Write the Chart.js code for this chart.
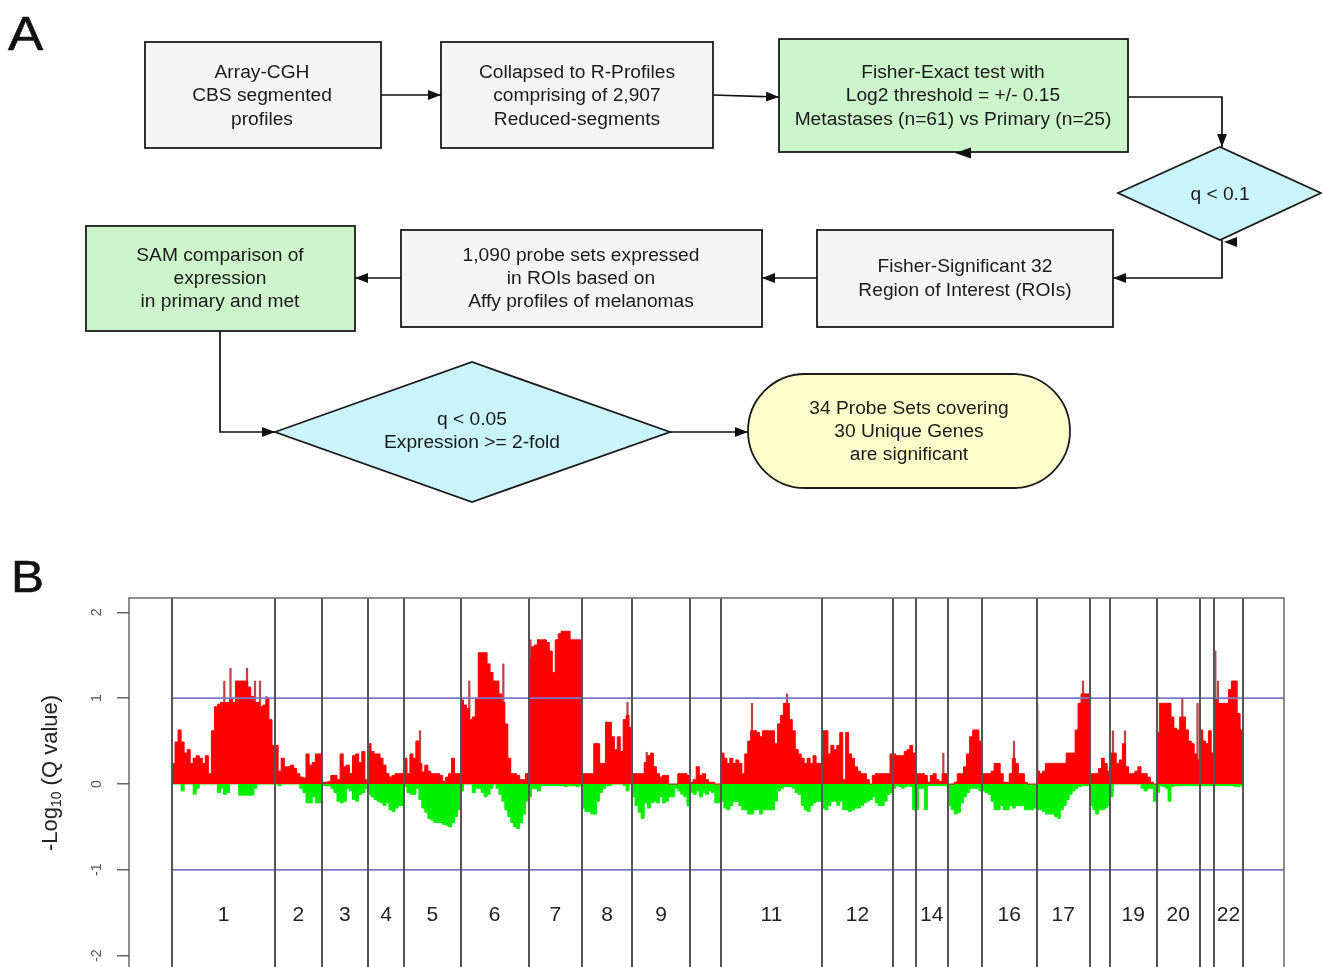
<!DOCTYPE html>
<html>
<head>
<meta charset="utf-8">
<title>CGH-expression workflow and genome-wide Fisher q-values</title>
<script src="https://cdn.jsdelivr.net/npm/chart.js@4.4.1/dist/chart.umd.min.js"></script>
<style>
  html, body { margin: 0; padding: 0; background: #fff; }
  body { width: 1322px; height: 967px; overflow: hidden; position: relative;
         font-family: "Liberation Sans", Arial, sans-serif; }
  #qplot { position: absolute; left: 0; top: 560px; }
  #flow { position: absolute; left: 0; top: 0; pointer-events: none; }
</style>
</head>
<body>
<canvas id="qplot" width="1322" height="440"></canvas>

<svg id="flow" width="1322" height="967" viewBox="0 0 1322 967">
  <defs>
    <marker id="ah" viewBox="0 0 13 10" refX="13" refY="5" markerWidth="13" markerHeight="10"
            markerUnits="userSpaceOnUse" orient="auto">
      <path d="M0,0 L13,5 L0,10 Z" fill="#111"/>
    </marker>
  </defs>

  <!-- panel tags -->
  <g font-family="Liberation Sans, Arial, sans-serif" fill="#111" stroke="#111" stroke-width="0.6">
    <text transform="translate(8,50) scale(1.1,1)" font-size="48">A</text>
    <text transform="translate(11,592) scale(1.1,1)" font-size="45">B</text>
  </g>

  <!-- boxes -->
  <g stroke="#1b1b1b" stroke-width="1.8">
    <rect x="145" y="42" width="236" height="106" fill="#f5f5f5"/>
    <rect x="441" y="42" width="272" height="106" fill="#f5f5f5"/>
    <rect x="779" y="39" width="349" height="113" fill="#ccf5cc"/>
    <polygon points="1118,193 1220,147 1321,193 1220,240" fill="#c9f4fb"/>
    <rect x="817" y="230" width="296" height="97" fill="#f5f5f5"/>
    <rect x="401" y="230" width="361" height="97" fill="#f5f5f5"/>
    <rect x="86" y="226" width="269" height="105" fill="#ccf5cc"/>
    <polygon points="275,432 472,362 670,432 472,502" fill="#c9f4fb"/>
    <rect x="748" y="374" width="322" height="114" rx="57" ry="57" fill="#ffffcc"/>
  </g>

  <!-- connectors -->
  <g stroke="#111" stroke-width="1.7" fill="none" marker-end="url(#ah)">
    <line x1="381" y1="95" x2="441" y2="95"/>
    <line x1="713" y1="95" x2="779" y2="97"/>
    <polyline points="1128,97 1222,97 1222,147"/>
    <polyline points="1222,240 1222,278 1113,278"/>
    <line x1="817" y1="278" x2="762" y2="278"/>
    <line x1="401" y1="278" x2="355" y2="278"/>
    <polyline points="220,331 220,432 275,432"/>
    <line x1="670" y1="432" x2="748" y2="432"/>
  </g>
  <g fill="#111">
    <path d="M955,153 L971,147.5 L971,158.5 Z"/>
    <path d="M1224,242 L1237,237 L1237,247 Z"/>
  </g>

  <!-- box texts -->
  <g font-family="Liberation Sans, Arial, sans-serif" font-size="19.2" fill="#1a1a1a" text-anchor="middle">
    <text x="262" y="78">Array-CGH</text>
    <text x="262" y="101">CBS segmented</text>
    <text x="262" y="125">profiles</text>

    <text x="577" y="78">Collapsed to R-Profiles</text>
    <text x="577" y="101">comprising of 2,907</text>
    <text x="577" y="125">Reduced-segments</text>

    <text x="953" y="78">Fisher-Exact test with</text>
    <text x="953" y="101">Log2 threshold = +/- 0.15</text>
    <text x="953" y="125">Metastases (n=61) vs Primary (n=25)</text>

    <text x="1220" y="200">q &lt; 0.1</text>

    <text x="965" y="272">Fisher-Significant 32</text>
    <text x="965" y="296">Region of Interest (ROIs)</text>

    <text x="581" y="261">1,090 probe sets expressed</text>
    <text x="581" y="284">in ROIs based on</text>
    <text x="581" y="307">Affy profiles of melanomas</text>

    <text x="220" y="261">SAM comparison of</text>
    <text x="220" y="284">expression</text>
    <text x="220" y="307">in primary and met</text>

    <text x="472" y="425">q &lt; 0.05</text>
    <text x="472" y="448">Expression &gt;= 2-fold</text>

    <text x="909" y="414">34 Probe Sets covering</text>
    <text x="909" y="437">30 Unique Genes</text>
    <text x="909" y="460">are significant</text>
  </g>
</svg>

<script>
// Chromosomes in genome order and the labels printed under them
// (labels of the narrow chromosomes are left out).
const chromNames = ['1','2','3','4','5','6','7','8','9','10','11','12','13','14','15','16','17','18','19','20','21','22'];
const chromTickLabels = ['1','2','3','4','5','6','7','8','9','','11','12','','14','','16','17','','19','20','','22'];

// Relative span of each chromosome along the genome axis.
const chromSpan = [103, 46.5, 46.5, 36, 56.5, 68, 53.5, 50, 58, 31, 101, 71, 22.5, 32.5, 34, 54.5, 53.5, 20, 46.5, 43.5, 14, 29];

// -log10(q) of the gain test, equal-width reduced segments per chromosome.
const gainQ = [
  [0.24,0.49,0.63,0.49,0.36,0.4,0.24,0.3,0.33,0.3,0.24,0.33,0.12,0.62,0.9,0.93,0.95,0.95,0.95,1.0,0.95,1.2,1.2,1.2,1.2,1.13,1.02,0.95,0.95,0.9,0.92,1.0,0.75,0.45],
  [0.45,0.15,0.3,0.2,0.2,0.22,0.18,0.12,0.08,0.07,0.35,0.22,0.25,0.35,0.35],
  [0.02,0.02,0.03,0.1,0.1,0.05,0.35,0.2,0.22,0.12,0.33,0.35,0.25,0.38,0.05],
  [0.47,0.38,0.35,0.35,0.3,0.22,0.12,0.08,0.1,0.12,0.12,0.12],
  [0.3,0.12,0.35,0.3,0.5,0.24,0.14,0.22,0.15,0.12,0.12,0.12,0.1,0.03,0.08,0.12,0.3,0.12,0.12],
  [0.98,0.92,0.88,0.75,0.78,1.0,1.53,1.53,1.53,1.4,1.3,1.2,1.2,1.05,0.95,0.7,0.3,0.12,0.12,0.1,0.05,0.05,0.12],
  [1.45,1.6,1.62,1.68,1.68,1.68,1.65,1.55,1.3,1.68,1.75,1.78,1.78,1.78,1.68,1.68,1.68,1.68],
  [0.12,0.12,0.12,0.12,0.47,0.47,0.24,0.24,0.72,0.72,0.55,0.4,0.55,0.38,0.75,0.8,0.66],
  [0.12,0.12,0.12,0.12,0.25,0.33,0.36,0.2,0.12,0.08,0.1,0.1,0,0,0,0.12,0.12,0.12,0.1],
  [0.02,0.05,0.2,0.1,0.12,0.05,0.02,0.02,0,0],
  [0.36,0.3,0.24,0.3,0.24,0.28,0.24,0.12,0.35,0.5,0.62,0.62,0.6,0.55,0.62,0.62,0.62,0.62,0.47,0.7,0.8,0.94,0.94,0.75,0.62,0.4,0.35,0.3,0.24,0.3,0.24,0.33,0.24,0.24],
  [0.62,0.62,0.35,0.45,0.4,0.45,0.6,0.05,0.6,0.35,0.3,0.2,0.15,0.12,0.12,0.05,0,0.1,0.12,0.12,0.12,0.12,0.12,0.35],
  [0.35,0.33,0.33,0.33,0.38,0.4,0.45,0.36],
  [0.12,0.12,0.12,0.1,0.02,0.1,0.12,0.05,0.03,0.12,0.12],
  [0,0,0.02,0.12,0.12,0.2,0.35,0.55,0.63,0.63,0.5],
  [0.12,0.12,0.12,0.15,0.24,0.24,0.12,0.02,0.02,0.12,0.3,0.24,0.12,0.12,0.02,0,0,0],
  [0.15,0.12,0.15,0.24,0.24,0.24,0.24,0.24,0.24,0.24,0.36,0.36,0.36,0.63,0.94,1.05,1.05,1.05],
  [0.12,0.12,0.12,0.18,0.3,0.24,0.15],
  [0.36,0.36,0.24,0.28,0.47,0.2,0.12,0.12,0.15,0.2,0.12,0.12,0.08,0.02,0],
  [0.6,0.94,0.94,0.94,0.94,0.78,0.65,0.63,0.78,0.78,0.63,0.5,0.47,0.35,0.28],
  [0.63,0.5,0.47,0.62,0.36],
  [1.0,0.94,0.94,0.94,0.94,1.1,1.2,1.2,0.82,0.63]
];

// log10(q) of the loss test (drawn downwards), same segmentation.
const lossQ = [
  [0,0,0,-0.08,0,0,0,-0.12,-0.05,0,0,0,0,0,0,-0.1,-0.05,-0.12,-0.1,0,0,0,-0.13,-0.13,-0.13,-0.13,-0.13,-0.05,0,0,0,0,0,0],
  [0,-0.02,0,0,0,0,0,0,-0.05,-0.1,-0.22,-0.22,-0.15,-0.22,-0.22],
  [-0.02,-0.02,-0.02,-0.05,-0.1,-0.2,-0.22,-0.2,-0.05,-0.08,-0.18,-0.2,-0.12,-0.1,-0.05],
  [-0.12,-0.15,-0.18,-0.2,-0.22,-0.25,-0.22,-0.3,-0.32,-0.28,-0.25,-0.25],
  [-0.03,-0.1,-0.12,-0.12,-0.05,-0.18,-0.28,-0.33,-0.4,-0.42,-0.45,-0.45,-0.45,-0.47,-0.48,-0.5,-0.45,-0.38,-0.3],
  [-0.08,0,0,0,-0.1,-0.05,-0.05,-0.1,-0.15,-0.12,-0.05,0,-0.05,-0.12,-0.2,-0.3,-0.38,-0.45,-0.5,-0.52,-0.45,-0.35,-0.2],
  [-0.15,-0.05,-0.05,-0.08,-0.02,-0.02,-0.02,-0.02,-0.02,-0.02,-0.02,-0.02,-0.03,-0.02,-0.02,-0.02,-0.03,-0.02],
  [-0.28,-0.32,-0.32,-0.35,-0.35,-0.2,-0.1,-0.05,-0.02,-0.02,0,0,0,0,-0.02,-0.08,0],
  [-0.15,-0.25,-0.33,-0.4,-0.22,-0.28,-0.22,-0.2,-0.22,-0.15,-0.22,-0.2,-0.15,-0.15,-0.05,-0.08,-0.12,-0.15,-0.25],
  [-0.1,-0.12,-0.08,-0.15,-0.1,-0.12,-0.08,-0.1,-0.22,-0.22],
  [-0.2,-0.28,-0.3,-0.25,-0.2,-0.2,-0.25,-0.3,-0.3,-0.35,-0.35,-0.3,-0.3,-0.35,-0.3,-0.3,-0.3,-0.3,-0.2,-0.08,-0.05,-0.03,-0.03,-0.03,-0.05,-0.1,-0.12,-0.25,-0.3,-0.32,-0.25,-0.22,-0.2,-0.2],
  [-0.28,-0.3,-0.25,-0.2,-0.2,-0.25,-0.2,-0.3,-0.3,-0.32,-0.3,-0.28,-0.28,-0.25,-0.22,-0.2,-0.18,-0.15,-0.22,-0.25,-0.25,-0.2,-0.12,-0.1],
  [-0.05,-0.02,-0.03,-0.05,-0.03,-0.02,-0.03,-0.3],
  [-0.3,-0.05,-0.05,-0.3,-0.02,-0.02,-0.02,-0.02,-0.02,-0.02,-0.02],
  [-0.25,-0.3,-0.35,-0.33,-0.22,-0.15,-0.1,-0.05,-0.05,-0.05,-0.08],
  [-0.08,-0.1,-0.12,-0.2,-0.3,-0.3,-0.25,-0.3,-0.3,-0.25,-0.28,-0.25,-0.25,-0.25,-0.3,-0.3,-0.3,-0.28],
  [-0.3,-0.3,-0.32,-0.35,-0.35,-0.35,-0.38,-0.4,-0.3,-0.25,-0.18,-0.12,-0.08,-0.05,-0.03,-0.02,-0.02,-0.02],
  [-0.25,-0.3,-0.35,-0.3,-0.3,-0.28,-0.25],
  [-0.15,0,0,0,0,0,0,0,0,0,-0.05,-0.08,-0.05,-0.05,-0.2],
  [-0.1,-0.02,-0.03,-0.05,-0.2,-0.03,-0.02,-0.02,-0.02,-0.02,-0.02,-0.02,-0.02,-0.02,-0.02],
  [-0.02,-0.02,-0.02,-0.02,-0.02],
  [-0.02,-0.02,-0.02,-0.02,-0.02,-0.02,-0.02,-0.03,-0.03,-0.02]
];

// Narrow single segments that stand out above their neighbours:
// [chromosome, offset within chromosome, -log10(q)]
const gainPeaks = [
  [1,52.3,1.2],[1,58.5,1.35],[1,75,1.35],[1,83,1.2],[1,88,1.2],[1,94.5,1.02],
  [5,13,0.47],[5,16,0.62],
  [6,8.8,1.2],[6,42.8,1.4],
  [7,2,1.68],[7,10,1.68],
  [8,45.5,0.95],
  [9,14.7,0.37],
  [11,31,0.94],[11,66,1.05],
  [14,27.8,0.36],
  [16,32,0.5],
  [17,0.7,0.94],[17,46.5,1.2],
  [19,3,0.62],[19,15,0.62],
  [20,25.8,1.0],[20,41,0.94],
  [22,1.3,1.55],[22,4,1.2]
];

// Significance cut-off (q = 0.1) drawn on both sides of zero.
const qCutoff = [1, -1];
const yRange = [-2.168, 2.168];
const yTickStep = 1;
const axisMargin = [43, 41];          // empty genome-axis room before chr1 and after chr22
const chromLabelLevel = -1.53;

// ---- derived structures ----
const chromStart = [];
chromSpan.reduce((acc, w, i) => { chromStart[i] = acc; return acc + w; }, 0);
const genomeEnd = chromStart[chromStart.length - 1] + chromSpan[chromSpan.length - 1];
const chromEdges = chromStart.concat([genomeEnd]);

function stepSeries(series) {
  const pts = [];
  series.forEach((vals, c) => {
    const w = chromSpan[c] / vals.length;
    vals.forEach((v, i) => pts.push({ x: chromStart[c] + i * w, y: v }));
    pts.push({ x: chromStart[c] + chromSpan[c], y: vals[vals.length - 1] });
  });
  return pts;
}

const xMin = -axisMargin[0];
const xMax = genomeEnd + axisMargin[1];

const FONT = '"Liberation Sans", Arial, sans-serif';

// Chromosome separators, frame, chromosome names and the y-axis title.
const genomeFrame = {
  id: 'genomeFrame',
  afterDatasetsDraw(chart) {
    const { ctx, chartArea: a, scales: { x, y } } = chart;
    ctx.save();
    ctx.strokeStyle = '#555';
    ctx.lineWidth = 2;
    chromEdges.forEach(e => {
      const px = Math.round(x.getPixelForValue(e));
      ctx.beginPath();
      ctx.moveTo(px, a.top);
      ctx.lineTo(px, a.bottom);
      ctx.stroke();
    });
    ctx.strokeStyle = '#6a6a6a';
    ctx.lineWidth = 1.5;
    ctx.strokeRect(a.left, a.top, a.right - a.left, a.bottom - a.top);

    ctx.fillStyle = '#222';
    ctx.font = '21px ' + FONT;
    ctx.textAlign = 'center';
    ctx.textBaseline = 'middle';
    const ly = y.getPixelForValue(chromLabelLevel);
    chromTickLabels.forEach((lab, i) => {
      if (!lab) return;
      ctx.fillText(lab, x.getPixelForValue(chromStart[i] + chromSpan[i] / 2), ly);
    });
    ctx.restore();
  },
  afterDraw(chart) {
    const { ctx, chartArea: a } = chart;
    const parts = [
      { t: '-Log', size: 22, dy: 0 },
      { t: '10', size: 14, dy: 6 },
      { t: ' (Q value)', size: 22, dy: 0 }
    ];
    ctx.save();
    ctx.fillStyle = '#222';
    ctx.textBaseline = 'middle';
    ctx.textAlign = 'left';
    let total = 0;
    parts.forEach(p => { ctx.font = p.size + 'px ' + FONT; p.w = ctx.measureText(p.t).width; total += p.w; });
    ctx.translate(51, (a.top + a.bottom) / 2 - 11);
    ctx.rotate(-Math.PI / 2);
    let cx = -total / 2;
    parts.forEach(p => { ctx.font = p.size + 'px ' + FONT; ctx.fillText(p.t, cx, p.dy); cx += p.w; });
    ctx.restore();
  }
};

new Chart(document.getElementById('qplot'), {
  type: 'line',
  data: {
    datasets: [
      {
        label: 'q = 0.1 (gain)',
        data: [{ x: 0, y: qCutoff[0] }, { x: xMax, y: qCutoff[0] }],
        borderColor: '#7a7ac4', borderWidth: 1.7, pointRadius: 0, fill: false, order: 0
      },
      {
        label: 'q = 0.1 (loss)',
        data: [{ x: 0, y: qCutoff[1] }, { x: xMax, y: qCutoff[1] }],
        borderColor: '#7a7ac4', borderWidth: 1.7, pointRadius: 0, fill: false, order: 0
      },
      {
        label: 'Gain',
        data: stepSeries(gainQ),
        stepped: true,
        fill: 'origin',
        backgroundColor: '#ff0000',
        borderColor: '#ff0000',
        borderWidth: 1,
        pointRadius: 0,
        order: 2
      },
      {
        label: 'Loss',
        data: stepSeries(lossQ),
        stepped: true,
        fill: 'origin',
        backgroundColor: '#00f000',
        borderColor: '#00f000',
        borderWidth: 1,
        pointRadius: 0,
        order: 2
      },
      {
        type: 'bar',
        label: 'Single-segment peaks',
        data: gainPeaks.map(([c, off, q]) => ({ x: chromStart[c - 1] + off, y: q })),
        backgroundColor: 'rgba(178,50,50,0.9)',
        barThickness: 1.6,
        grouped: false,
        order: 3
      }
    ]
  },
  options: {
    responsive: false,
    animation: false,
    devicePixelRatio: 1,
    layout: { padding: { top: 38, right: 38, bottom: 30, left: 0 } },
    plugins: { legend: { display: false }, tooltip: { enabled: false } },
    scales: {
      x: {
        type: 'linear',
        min: xMin,
        max: xMax,
        display: false,
        offset: false
      },
      y: {
        type: 'linear',
        min: yRange[0],
        max: yRange[1],
        afterFit(scale) { scale.width = 129; },
        border: { display: false },
        grid: { drawOnChartArea: false, drawTicks: true, tickLength: 12, color: '#666', lineWidth: 1.5 },
        ticks: {
          stepSize: yTickStep,
          includeBounds: false,
          minRotation: 90,
          maxRotation: 90,
          crossAlign: 'center',
          padding: 14,
          color: '#555',
          font: { size: 14, family: FONT },
          callback: v => String(v)
        }
      }
    }
  },
  plugins: [genomeFrame]
});
</script>
</body>
</html>
